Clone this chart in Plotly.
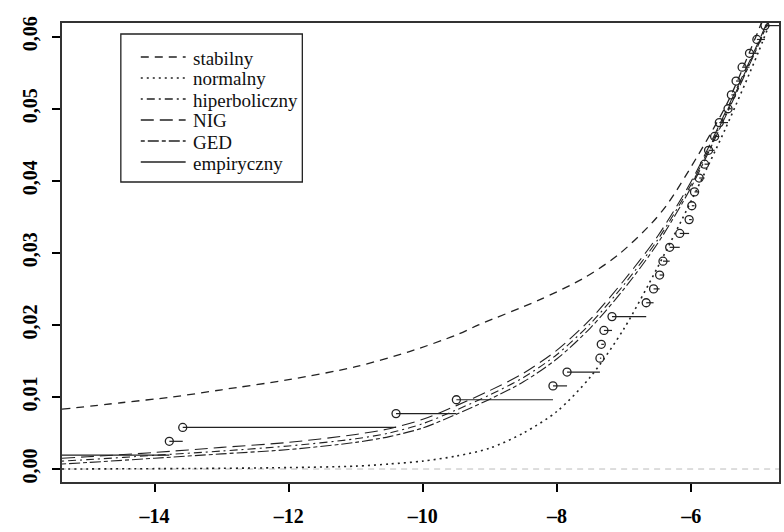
import plotly.graph_objects as go

# ---- data ----
x_grid = [-15.38, -15.0, -14.0, -13.0, -12.0, -11.0, -10.5, -10.0, -9.5, -9.0, -8.5,
          -8.0, -7.5, -7.0, -6.5, -6.0, -5.5, -5.0, -4.7]
hiperboliczny_y = [0.0011, 0.0013, 0.0019, 0.0025, 0.0032, 0.0042, 0.0050, 0.0063, 0.0082,
                   0.0103, 0.0127, 0.0159, 0.0202, 0.0256, 0.0318, 0.0395, 0.0490, 0.0590, 0.0655]
nig_y = [0.0015, 0.0017, 0.0023, 0.0030, 0.0037, 0.0048, 0.0056, 0.0069, 0.0088,
         0.0109, 0.0133, 0.0165, 0.0208, 0.0262, 0.0323, 0.0399, 0.0493, 0.0592, 0.0656]
ged_y = [0.0007, 0.0009, 0.0015, 0.0021, 0.0027, 0.0037, 0.0045, 0.0057, 0.0076,
         0.0097, 0.0121, 0.0153, 0.0196, 0.0250, 0.0313, 0.0391, 0.0487, 0.0588, 0.0654]

stabilny_x = [-15.38, -14.5, -13.73, -13.0, -12.0, -11.0, -10.2, -9.5, -9.17, -8.28, -7.6,
              -7.09, -6.6, -6.35, -5.9, -5.45, -5.0, -4.7]
stabilny_y = [0.0083, 0.0092, 0.0100, 0.0110, 0.0124, 0.0142, 0.0163, 0.0186, 0.0200, 0.0234,
              0.0265, 0.0297, 0.0340, 0.0368, 0.0435, 0.0510, 0.0608, 0.0680]

normalny_x = [-15.38, -13.0, -12.0, -11.0, -10.5, -10.0, -9.5, -9.0, -8.5, -8.0, -7.5,
              -7.0, -6.5, -6.0, -5.5, -5.0, -4.7]
normalny_y = [0.0000, 0.0001, 0.0002, 0.0004, 0.0007, 0.0011, 0.0018, 0.0029, 0.0050, 0.0080,
              0.0128, 0.0195, 0.0280, 0.0372, 0.0470, 0.0578, 0.0650]

# sorted sample (left tail) for the empirical distribution function
sample_n = 520
sample_x = [-17.2, -13.78, -13.58, -10.40, -9.50, -8.06, -7.85, -7.36, -7.34, -7.30, -7.18,
            -6.67, -6.56, -6.47, -6.42, -6.32, -6.17, -6.03, -5.99, -5.95, -5.88, -5.80,
            -5.74, -5.65, -5.58, -5.45, -5.40, -5.33, -5.24, -5.13, -5.02, -4.90, -4.60]

xticks = [-14, -12, -10, -8, -6]
xtick_text = ["–14", "–12", "–10", "–8", "–6"]
yticks = [0.00, 0.01, 0.02, 0.03, 0.04, 0.05, 0.06]
ytick_text = ["0,00", "0,01", "0,02", "0,03", "0,04", "0,05", "0,06"]

legend_names = ["stabilny", "normalny", "hiperboliczny", "NIG", "GED", "empiryczny"]
legend_dashes = ["8px,6px", "2px,4px", "2px,4px,8px,4px", "13px,6px", "4px,3px,11px,3px", "solid"]

FONT = "Liberation Serif, Times New Roman, serif"
INK = "#222222"

# plot-area geometry (pixels) for placing the legend box
L, T, W, H = 62, 23, 719, 459


def px(x):
    return (x - L) / W


def py(y):
    return (T + H - y) / H


fig = go.Figure()

fig.add_trace(go.Scatter(x=[-20, 0], y=[0, 0], mode="lines",
                         line=dict(color="#bbbbbb", width=1, dash="6px,5px"),
                         showlegend=False, hoverinfo="skip"))

curves = [
    (stabilny_x, stabilny_y, legend_names[0], legend_dashes[0], 1.3),
    (normalny_x, normalny_y, legend_names[1], legend_dashes[1], 1.6),
    (x_grid, hiperboliczny_y, legend_names[2], legend_dashes[2], 1.1),
    (x_grid, nig_y, legend_names[3], legend_dashes[3], 1.1),
    (x_grid, ged_y, legend_names[4], legend_dashes[4], 1.1),
]
for xs, ys, nm, ds, lw in curves:
    fig.add_trace(go.Scatter(x=xs, y=ys, mode="lines", name=nm, showlegend=False,
                             line=dict(color=INK, width=lw, dash=ds, shape="spline",
                                       smoothing=0.8)))

# empirical step function
seg_x, seg_y, pt_x, pt_y = [], [], [], []
for i, xv in enumerate(sample_x):
    yv = (i + 1) / sample_n
    nxt = sample_x[i + 1] if i + 1 < len(sample_x) else xv + 0.3
    seg_x += [xv, nxt, None]
    seg_y += [yv, yv, None]
    pt_x.append(xv)
    pt_y.append(yv)

fig.add_trace(go.Scatter(x=seg_x, y=seg_y, mode="lines", name="empiryczny", showlegend=False,
                         line=dict(color=INK, width=1.2)))
fig.add_trace(go.Scatter(x=pt_x, y=pt_y, mode="markers", showlegend=False,
                         marker=dict(symbol="circle-open", size=8, color=INK,
                                     line=dict(width=1.3, color=INK))))

# legend box (drawn like the R legend)
shapes = [dict(type="rect", xref="paper", yref="paper",
               x0=px(121), x1=px(303), y0=py(182), y1=py(34),
               line=dict(color="#222", width=1.3), fillcolor="rgba(0,0,0,0)")]
annotations = []
for i, (nm, ds) in enumerate(zip(legend_names, legend_dashes)):
    yc = 57 + 21 * i
    shapes.append(dict(type="line", xref="paper", yref="paper",
                       x0=px(141), x1=px(186), y0=py(yc), y1=py(yc),
                       line=dict(color=INK, width=1.4, dash=ds)))
    annotations.append(dict(text=nm, xref="paper", yref="paper", x=px(191), y=py(yc + 1),
                            xanchor="left", yanchor="middle", showarrow=False,
                            font=dict(family=FONT, size=19, color="#111")))

fig.update_layout(
    width=784, height=532,
    margin=dict(l=L, r=784 - L - W, t=T, b=532 - T - H),
    paper_bgcolor="white", plot_bgcolor="white",
    font=dict(family=FONT, size=17, color="black"),
    showlegend=False,
    shapes=shapes,
    annotations=annotations,
)
fig.update_xaxes(range=[-15.38, -4.69], tickvals=xticks, ticktext=xtick_text,
                 showgrid=False, zeroline=False, showline=True, linecolor="#333",
                 linewidth=1.8, mirror=True, ticks="outside", ticklen=8, tickwidth=1.6,
                 tickcolor="black", ticklabelstandoff=7,
                 tickfont=dict(family=FONT, size=20, color="black", weight="bold"))
fig.update_yaxes(range=[-0.0018, 0.0619], tickvals=yticks, ticktext=ytick_text,
                 showgrid=False, zeroline=False, showline=True, linecolor="#333",
                 linewidth=1.8, mirror=True, ticks="outside", ticklen=8, tickwidth=1.6,
                 tickcolor="black", tickangle=-90, ticklabelstandoff=7,
                 tickfont=dict(family=FONT, size=20, color="black", weight="bold"))

fig.write_html("out.html")
